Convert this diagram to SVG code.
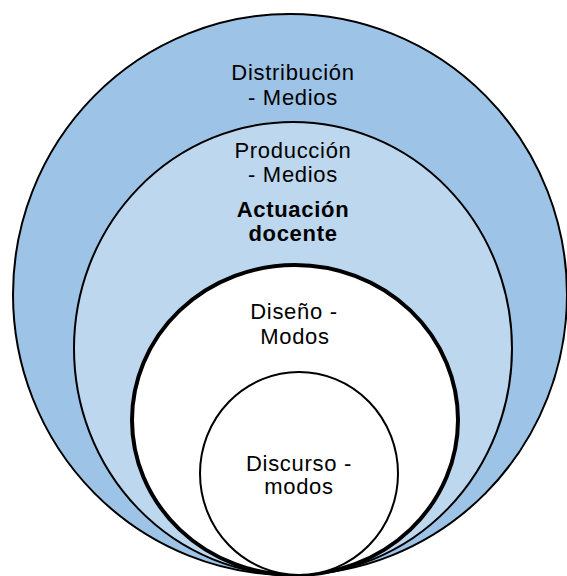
<svg xmlns="http://www.w3.org/2000/svg" width="567" height="576" viewBox="0 0 567 576">
<style>
  .ring { stroke: #000; }
  .t { font-family: "Liberation Sans", Arial, sans-serif; font-size: 22px; letter-spacing: 0.7px; fill: #000; text-anchor: middle; }
  .b { font-weight: bold; }
</style>
<rect width="567" height="576" fill="#fff"/>
<g id="distribucion">
  <ellipse class="ring" cx="290" cy="294.5" rx="277" ry="280.5" fill="#9dc3e6" stroke-width="2"/>
  <text class="t" x="293" y="80">Distribución</text>
  <text class="t" x="293" y="105">- Medios</text>
</g>
<g id="produccion">
  <ellipse class="ring" cx="293" cy="348.5" rx="219" ry="226.5" fill="#bdd7ee" stroke-width="2"/>
  <text class="t" x="293" y="158">Producción</text>
  <text class="t" x="293" y="182">- Medios</text>
</g>
<g id="actuacion">
  <text class="t b" x="293" y="217">Actuación</text>
  <text class="t b" x="293" y="241">docente</text>
</g>
<g id="diseno">
  <ellipse class="ring" cx="295" cy="420" rx="163" ry="155" fill="#fff" stroke-width="4"/>
  <text class="t" x="294" y="319">Diseño -</text>
  <text class="t" x="295" y="344">Modos</text>
</g>
<g id="discurso">
  <ellipse class="ring" cx="299" cy="473.5" rx="99" ry="101.5" fill="#fff" stroke-width="2"/>
  <text class="t" x="299" y="471">Discurso -</text>
  <text class="t" x="299" y="494">modos</text>
</g>
<g id="connectors"></g>
</svg>
